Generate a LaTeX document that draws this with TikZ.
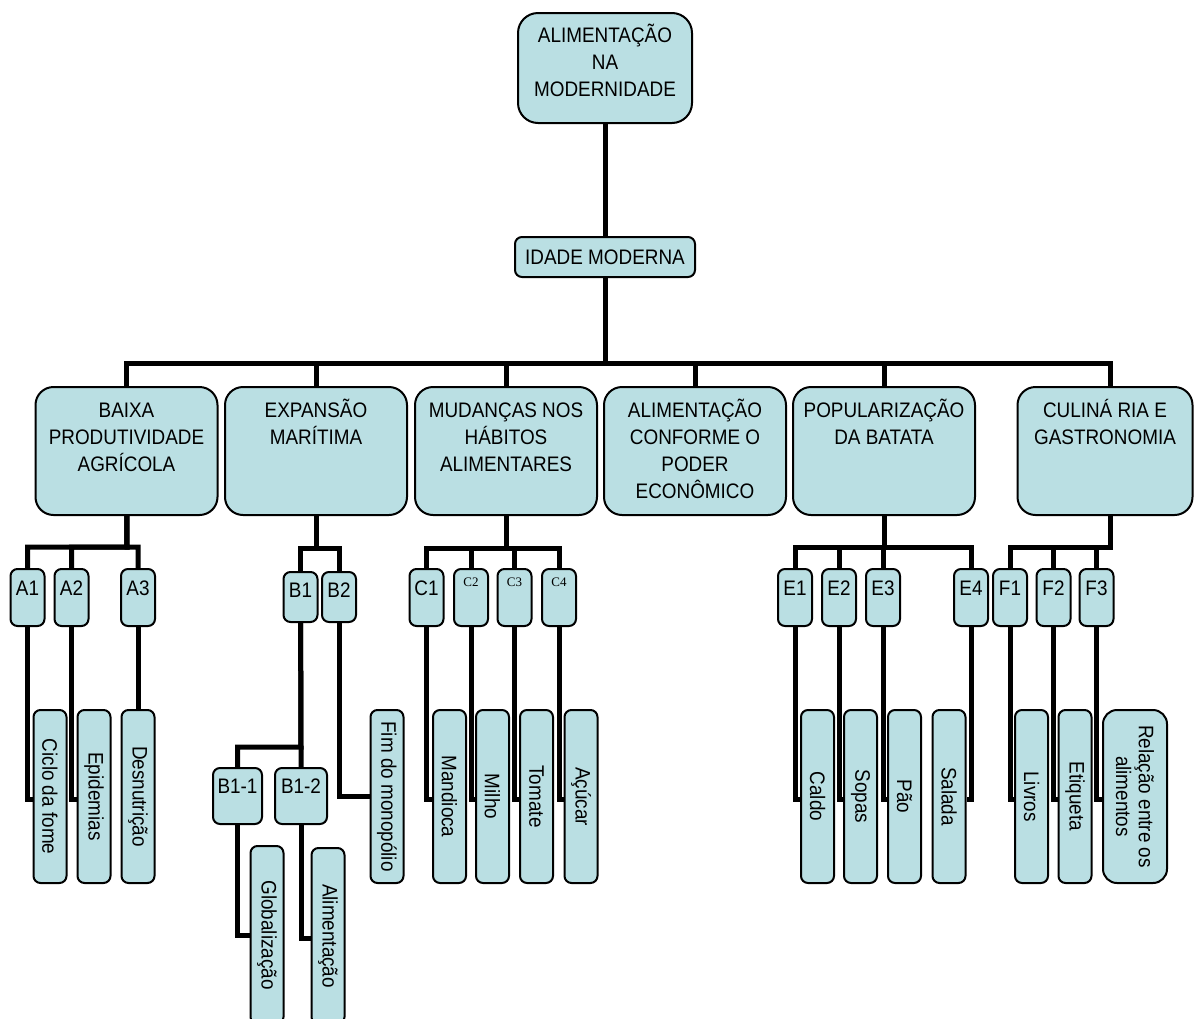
\documentclass[tikz,border=0pt]{standalone}
\usepackage{fontspec}
\setmainfont{Liberation Sans}[FakeStretch=0.9]
\newfontfamily\labelserif{Liberation Serif}
\usetikzlibrary{calc}
\definecolor{boxfill}{RGB}{186,223,227}
\pgfdeclarelayer{back}
\pgfsetlayers{back,main}
% text block of fixed size, set from the top; #3 is the depth of the first baseline
\newcommand{\tbox}[4]{\parbox[c][#2][t]{#1}{\centering\rule{0pt}{#3}#4\par}}
\tikzset{
  card/.style={draw=black, line width=2pt, fill=boxfill, inner sep=0pt,
    font=\fontsize{21}{27}\selectfont},
  rootbox/.style={card, rounded corners=20pt, minimum width=174pt, minimum height=110pt},
  agebox/.style={card, rounded corners=7pt, minimum width=180pt, minimum height=40pt},
  headbox/.style={card, rounded corners=18pt, minimum width=182pt, minimum height=128pt},
  subbox/.style={card, rounded corners=7pt, minimum width=34pt, minimum height=57pt},
  leafbox/.style={card, rounded corners=7pt, minimum width=33pt, minimum height=173pt},
  link/.style={line width=5pt, draw=black},
}
\newcommand{\head}[1]{\tbox{182pt}{128pt}{30pt}{#1}}
\newcommand{\sub}[1]{\tbox{34pt}{57pt}{26pt}{#1}}
\newcommand{\subserif}[1]{\tbox{34pt}{57pt}{17pt}{\labelserif\fontsize{13}{15}\selectfont #1}}
\newcommand{\leaf}[1]{\rotatebox{-90}{#1}}
\begin{document}
\begin{tikzpicture}[x=1pt,y=-1pt]
\useasboundingbox (0,0) rectangle (1194,1018);

% top of the tree
\node[rootbox] (root) at (605,68) {\tbox{174pt}{110pt}{29pt}{ALIMENTAÇÃO\\NA\\MODERNIDADE}};
\node[agebox] (idade) at (605,257) {IDADE MODERNA};

% main themes
\node[headbox] (A) at (126.5,451) {\head{BAIXA\\PRODUTIVIDADE\\AGRÍCOLA}};
\node[headbox] (B) at (316,451) {\head{EXPANSÃO\\MARÍTIMA}};
\node[headbox] (C) at (506,451) {\head{MUDANÇAS NOS\\HÁBITOS\\ALIMENTARES}};
\node[headbox] (D) at (695,451) {\head{ALIMENTAÇÃO\\CONFORME O\\PODER\\ECONÔMICO}};
\node[headbox] (E) at (884,451) {\head{POPULARIZAÇÃO\\DA BATATA}};
\node[headbox, minimum width=175pt] (F) at (1105,451) {\tbox{175pt}{128pt}{30pt}{CULINÁ RIA E\\GASTRONOMIA}};

% sub-topics
\node[subbox] (A1) at (27.5,597.5) {\sub{A1}};
\node[subbox] (A2) at (71.5,597.5) {\sub{A2}};
\node[subbox] (A3) at (138,597.5) {\sub{A3}};
\node[subbox, minimum height=50pt] (B1) at (300.5,597) {\tbox{34pt}{50pt}{25pt}{B1}};
\node[subbox, minimum height=50pt] (B2) at (339,597) {\tbox{34pt}{50pt}{25pt}{B2}};
\node[subbox] (C1) at (426.5,597.5) {\sub{C1}};
\node[subbox] (C2) at (471,597.5) {\subserif{C2}};
\node[subbox] (C3) at (514.5,597.5) {\subserif{C3}};
\node[subbox] (C4) at (559,597.5) {\subserif{C4}};
\node[subbox] (E1) at (795,597.5) {\sub{E1}};
\node[subbox] (E2) at (839,597.5) {\sub{E2}};
\node[subbox] (E3) at (883,597.5) {\sub{E3}};
\node[subbox] (E4) at (971,597.5) {\sub{E4}};
\node[subbox] (F1) at (1010,597.5) {\sub{F1}};
\node[subbox] (F2) at (1053.5,597.5) {\sub{F2}};
\node[subbox] (F3) at (1096.5,597.5) {\sub{F3}};
\node[subbox, minimum width=49pt, minimum height=56pt] (B11) at (237.5,796) {\tbox{49pt}{56pt}{25pt}{B1-1}};
\node[subbox, minimum width=52pt, minimum height=56pt] (B12) at (301,796) {\tbox{52pt}{56pt}{25pt}{B1-2}};

% leaves
\node[leafbox] (cf) at (50,796.5) {\leaf{Ciclo da fome}};
\node[leafbox] (ep) at (94,796.5) {\leaf{Epidemias}};
\node[leafbox] (de) at (138,796.5) {\leaf{Desnutrição}};
\node[leafbox] (fim) at (387,796.5) {\leaf{Fim do monopólio}};
\node[leafbox, minimum height=178pt] (gl) at (267,935) {\leaf{Globalização}};
\node[leafbox, minimum height=176pt] (al) at (328,936) {\leaf{Alimentação}};
\node[leafbox] (ma) at (449.5,796.5) {\leaf{Mandioca}};
\node[leafbox] (mi) at (492.5,796.5) {\leaf{Milho}};
\node[leafbox] (to) at (536.5,796.5) {\leaf{Tomate}};
\node[leafbox] (ac) at (581,796.5) {\leaf{Açúcar}};
\node[leafbox] (ca) at (817.5,796.5) {\leaf{Caldo}};
\node[leafbox] (so) at (860.5,796.5) {\leaf{Sopas}};
\node[leafbox] (pa) at (904.5,796.5) {\leaf{Pão}};
\node[leafbox] (sa) at (949,796.5) {\leaf{Salada}};
\node[leafbox] (li) at (1031.5,796.5) {\leaf{Livros}};
\node[leafbox] (et) at (1075,796.5) {\leaf{Etiqueta}};
\node[leafbox, minimum width=64pt, rounded corners=14pt] (re) at (1135,796.5) {\leaf{\shortstack{Relação entre os\\alimentos}}};

% white page and connectors, drawn beneath the boxes
\begin{pgfonlayer}{back}
  \fill[white] (0,0) rectangle (1194,1018);

  \coordinate (bus0) at (605,363);
  \coordinate (fdrop) at (1110,451);
  \coordinate (busA) at (127,547);
  \coordinate (busB) at (316,548);
  \coordinate (busB1) at (301,747);
  \coordinate (busC) at (506,548);
  \coordinate (busE) at (884,547);
  \coordinate (busF) at (1110,547);

  \draw[link] (root) -- (idade);
  \foreach \n in {A,B,C,D,E,fdrop} \draw[link] (idade) -- (bus0) -| (\n);

  \foreach \n in {A1,A2,A3} \draw[link] (A) -- (busA) -| (\n);
  \foreach \n in {B1,B2} \draw[link] (B) -- (busB) -| (\n);
  \foreach \n in {C1,C2,C3,C4} \draw[link] (C) -- (busC) -| (\n);
  \foreach \n in {E1,E2,E3,E4} \draw[link] (E) -- (busE) -| (\n);
  \foreach \n in {F1,F2,F3} \draw[link] (fdrop) -- (busF) -| (\n);

  \foreach \n in {B11,B12} \draw[link] (B1) -- (busB1) -| (\n);
  \draw[link] (B2) |- (fim.west);
  \draw[link] (B11) |- (gl.west);
  \draw[link] (B12) |- ([yshift=-2pt]al.west);

  \draw[link] (A1) |- ([yshift=-2.5pt]cf.west);
  \draw[link] (A2) |- ([yshift=-2.5pt]ep.west);
  \draw[link] (A3) -- (de);
  \draw[link] (C1) |- ([yshift=-2.5pt]ma.west);
  \draw[link] (C2) |- ([yshift=-2.5pt]mi.west);
  \draw[link] (C3) |- ([yshift=-2.5pt]to.west);
  \draw[link] (C4) |- ([yshift=-2.5pt]ac.west);
  \draw[link] (E1) |- ([yshift=-2.5pt]ca.west);
  \draw[link] (E2) |- ([yshift=-2.5pt]so.west);
  \draw[link] (E3) |- ([yshift=-2.5pt]pa.west);
  \draw[link] (E4) |- ([yshift=-2.5pt]sa.east);
  \draw[link] (F1) |- ([yshift=-2.5pt]li.west);
  \draw[link] (F2) |- ([yshift=-2.5pt]et.west);
  \draw[link] (F3) |- ([yshift=-2.5pt]re.west);
\end{pgfonlayer}
\end{tikzpicture}
\end{document}
